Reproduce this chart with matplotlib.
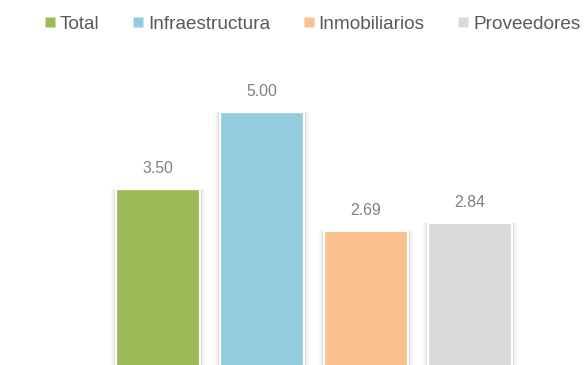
import matplotlib
matplotlib.use("Agg")
import matplotlib.pyplot as plt
from matplotlib.lines import Line2D

categories = ["Total", "Infraestructura", "Inmobiliarios", "Proveedores"]
values = [3.50, 5.00, 2.69, 2.84]
colors = ["#9BBB59", "#93CDDD", "#FAC090", "#D9D9D9"]

plt.rcParams["font.family"] = ["Liberation Sans", "DejaVu Sans"]

fig = plt.figure(figsize=(5.87, 3.65), dpi=100)
ax = fig.add_axes([0, 0, 1, 1])

x = list(range(len(values)))
w = 0.81

# soft shadow along the sides of each bar
for spread, alpha in [(0.10, 0.04), (0.07, 0.06), (0.045, 0.09), (0.03, 0.12)]:
    ax.bar(x, [v + spread * 0.15 for v in values], width=w + spread,
           color="#7f7f7f", alpha=alpha, linewidth=0, zorder=1)

ax.bar(x, values, width=w, color=colors, edgecolor="white", linewidth=1.6, zorder=2)

for xi, v in zip(x, values):
    ax.annotate(f"{v:.2f}", (xi, v), xytext=(0, 9.5), textcoords="offset points",
                ha="center", va="bottom", fontsize=11.4, color="#808080")

ax.set_xlim(-1.519, 4.125)
ax.set_ylim(0.078, 7.19)
ax.axis("off")

handles = [Line2D([], [], marker="s", linestyle="none", markersize=6.5,
                  markerfacecolor=c, markeredgecolor="none") for c in colors]
fig.legend(handles, categories, loc="center", bbox_to_anchor=(313 / 587, 1 - 24 / 365),
           ncol=4, frameon=False, fontsize=13.7, labelcolor="#595959",
           handlelength=0.45, handletextpad=0.3, columnspacing=1.8,
           borderpad=0, borderaxespad=0)

fig.savefig("out.png", dpi=100)
